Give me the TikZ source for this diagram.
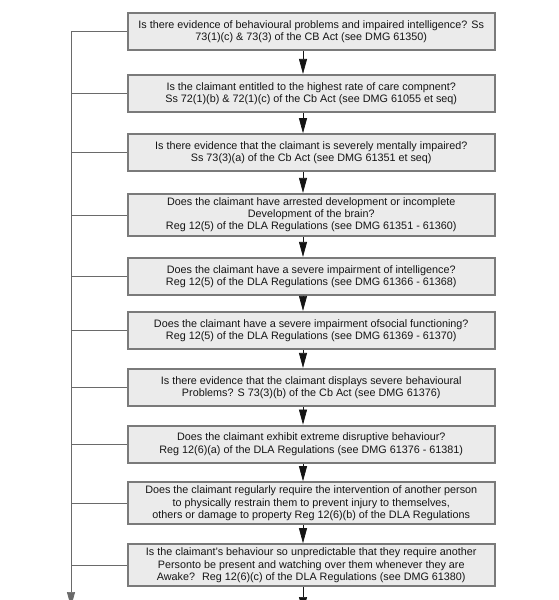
\documentclass[tikz,border=0pt]{standalone}
\usepackage{fontspec}
\setmainfont{Liberation Sans}
\usetikzlibrary{arrows.meta}
\definecolor{boxfill}{HTML}{EBEBEB}
\definecolor{boxline}{HTML}{7A7A7A}
\definecolor{wire}{HTML}{6A6A6A}
\definecolor{ink}{HTML}{141414}
\tikzset{
  qbox/.style={draw=boxline, line width=2.2pt, fill=boxfill, text=ink,
    minimum width=367pt, minimum height=37pt, inner sep=1pt, align=center,
    font=\fontsize{10.8}{12.2}\selectfont},
  tall/.style={minimum height=42pt},
  flow/.style={draw=ink, line width=0.7pt, -{Triangle[width=8pt,length=15pt]}},
  side/.style={draw=wire, line width=0.8pt},
}
\begin{document}
\begin{tikzpicture}[x=1pt,y=-1pt]
\useasboundingbox (0,0) rectangle (558,600);
\clip (0,0) rectangle (558,600);
\fill[white] (0,0) rectangle (558,600);
\node[qbox] (b1) at (311.25,31.5) {Is there evidence of behavioural problems and impaired intelligence? Ss\\73(1)(c) \& 73(3) of the CB Act (see DMG 61350)};
\node[qbox] (b2) at (311.25,93.5) {Is the claimant entitled to the highest rate of care compnent?\\Ss 72(1)(b) \& 72(1)(c) of the Cb Act (see DMG 61055 et seq)};
\node[qbox] (b3) at (311.25,152.8) {Is there evidence that the claimant is severely mentally impaired?\\Ss 73(3)(a) of the Cb Act (see DMG 61351 et seq)};
\node[qbox,tall] (b4) at (311.25,215) {Does the claimant have arrested development or incomplete\\Development of the brain?\\Reg 12(5) of the DLA Regulations (see DMG 61351 - 61360)};
\node[qbox] (b5) at (311.25,276.5) {Does the claimant have a severe impairment of intelligence?\\Reg 12(5) of the DLA Regulations (see DMG 61366 - 61368)};
\node[qbox] (b6) at (311.25,330.5) {Does the claimant have a severe impairment ofsocial functioning?\\Reg 12(5) of the DLA Regulations (see DMG 61369 - 61370)};
\node[qbox] (b7) at (311.25,387.5) {Is there evidence that the claimant displays severe behavioural\\Problems? S 73(3)(b) of the Cb Act (see DMG 61376)};
\node[qbox] (b8) at (311.25,444.2) {Does the claimant exhibit extreme disruptive behaviour?\\Reg 12(6)(a) of the DLA Regulations (see DMG 61376 - 61381)};
\node[qbox,tall] (b9) at (311.25,503.3) {Does the claimant regularly require the intervention of another person\\to physically restrain them to prevent injury to themselves,\\others or damage to property Reg 12(6)(b) of the DLA Regulations};
\node[qbox,tall] (b10) at (311.25,565.3) {Is the claimant's behaviour so unpredictable that they require another\\Personto be present and watching over them whenever they are\\Awake?~ Reg 12(6)(c) of the DLA Regulations (see DMG 61380)};
\coordinate (ax) at (303,0);
\coordinate (lx) at (71,0);
\coordinate (lend) at (71,607);
\coordinate (cend) at (303,612);
\foreach \a/\b in {b1/b2,b2/b3,b3/b4,b4/b5,b5/b6,b6/b7,b7/b8,b8/b9,b9/b10}
  \draw[flow] (\a.south -| ax) -- (\b.north -| ax);
\draw[flow] (b10.south -| ax) -- (cend);
\draw[side] (b1.west) -- (b1.west -| lx);
\draw[flow, draw=wire] (b1.west -| lx) -- (lend);
\foreach \b in {b2,b3,b4,b5,b6,b7,b8,b9,b10}
  \draw[side] (\b.west) -- (\b.west -| lx);
\end{tikzpicture}
\end{document}
